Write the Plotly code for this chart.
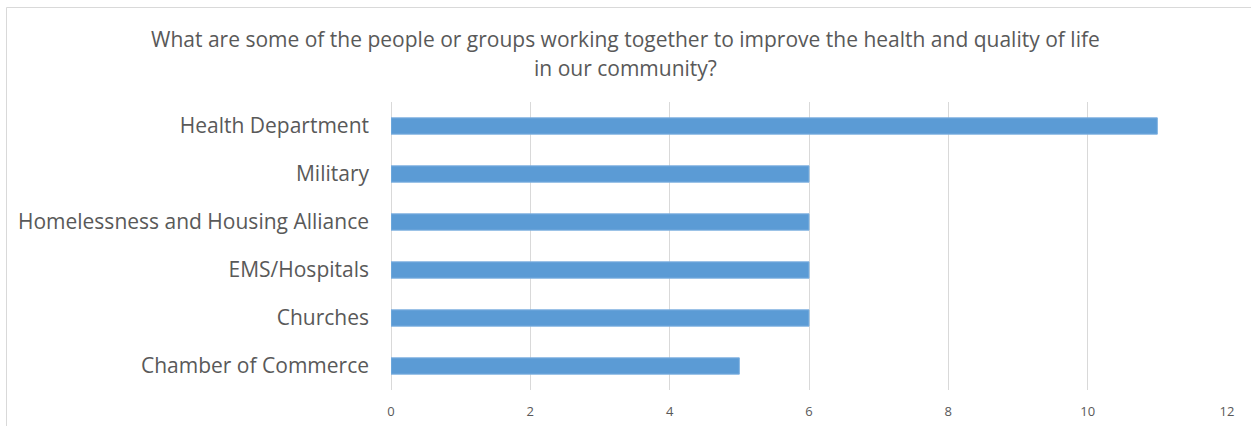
import plotly.graph_objects as go

categories = [
    "Health Department",
    "Military",
    "Homelessness and Housing Alliance",
    "EMS/Hospitals",
    "Churches",
    "Chamber of Commerce",
]
counts = [11, 6, 6, 6, 6, 5]
x_ticks = [0, 2, 4, 6, 8, 10, 12]

title_lines = [
    "What are some of the people or groups working together to improve the health and quality of life",
    "in our community?",
]

W, H = 1251, 426
L, R, T, B = 391, 24, 102, 36
pw, ph = W - L - R, H - T - B

TEXT = "#595959"
GRID = "#d9d9d9"
FONT = "Open Sans"

fig = go.Figure(
    go.Bar(
        x=counts,
        y=categories,
        orientation="h",
        width=0.34,
        marker=dict(color="#5B9BD5", line=dict(color="#7FB1E0", width=1)),
    )
)

fig.update_layout(
    width=W,
    height=H,
    margin=dict(l=L, r=R, t=T, b=B),
    paper_bgcolor="white",
    plot_bgcolor="white",
    showlegend=False,
    font=dict(family=FONT, color=TEXT),
    xaxis=dict(
        range=[0, 12],
        tickvals=x_ticks,
        showgrid=True,
        gridcolor=GRID,
        gridwidth=1,
        zeroline=True,
        zerolinecolor=GRID,
        zerolinewidth=1,
        showline=False,
        tickfont=dict(size=13, color=TEXT),
        ticklabelstandoff=12,
        automargin=False,
        fixedrange=True,
    ),
    yaxis=dict(
        autorange="reversed",
        showgrid=False,
        zeroline=False,
        showline=False,
        tickfont=dict(size=21, color=TEXT),
        ticklabelstandoff=21,
        automargin=False,
        fixedrange=True,
    ),
)

# chart frame (extends past the right and bottom edges of the page)
def px_x(px):
    return (px - L) / pw

def px_y(py):
    return (H - B - py) / ph

fig.add_shape(
    type="rect",
    xref="paper",
    yref="paper",
    x0=px_x(6.5),
    x1=px_x(W + 10),
    y0=px_y(H + 10),
    y1=px_y(7.5),
    line=dict(color=GRID, width=1),
    fillcolor="rgba(0,0,0,0)",
    layer="below",
)

for i, line in enumerate(title_lines):
    fig.add_annotation(
        text=line,
        xref="paper",
        yref="paper",
        x=px_x(W / 2),
        y=px_y(39 + 29 * i),
        xanchor="center",
        yanchor="middle",
        showarrow=False,
        font=dict(size=21, color=TEXT, family=FONT),
    )

fig.write_html("out.html")
